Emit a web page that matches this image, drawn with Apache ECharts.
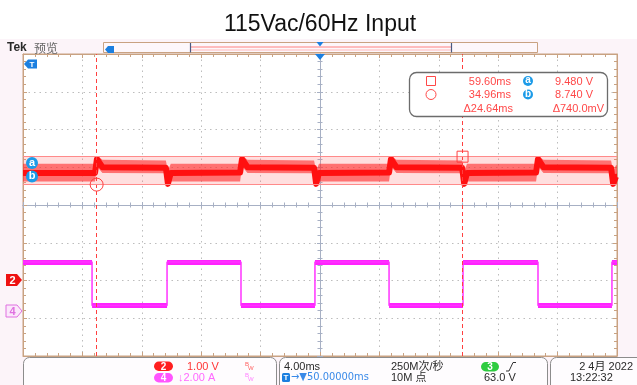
<!DOCTYPE html>
<html><head><meta charset="utf-8">
<script src="https://cdn.jsdelivr.net/npm/echarts@6/dist/echarts.min.js"></script>
<style>html,body{margin:0;padding:0;background:#ffffff;} #c{width:637px;height:385px;}</style>
</head><body><div id="c"></div>
<script>
// ---- data ----
const titleText = '115Vac/60Hz Input';
const timeRange = [30, 70];      // ms, 4 ms/div, centre 50 ms
const ch2Range = [4.2, 12.2];    // V, 1 V/div
const ch4Range = [-2.4, 13.6];   // A, 2 A/div

const ch2Time  = [30.00, 34.85, 34.98, 35.35, 39.62, 39.76, 39.95, 44.62, 44.75, 45.12, 49.60, 49.74, 49.93, 54.65, 54.78, 55.15, 59.57, 59.71, 59.90, 64.55, 64.68, 65.05, 69.60, 69.74, 69.93, 70.00];
const ch2Core  = [9.05, 9.05, 9.42, 9.20, 9.19, 8.76, 9.05, 9.06, 9.42, 9.20, 9.19, 8.76, 9.05, 9.06, 9.42, 9.20, 9.19, 8.76, 9.05, 9.06, 9.42, 9.20, 9.19, 8.76, 8.95, 8.95];
const ch2Upper = [9.29, 9.29, 9.50, 9.40, 9.38, 9.10, 9.29, 9.29, 9.50, 9.40, 9.38, 9.10, 9.29, 9.29, 9.50, 9.40, 9.38, 9.10, 9.29, 9.29, 9.50, 9.40, 9.38, 9.10, 9.25, 9.25];
const ch2Lower = [8.82, 8.82, 9.22, 9.05, 9.04, 8.70, 8.82, 8.82, 9.22, 9.05, 9.04, 8.70, 8.82, 8.82, 9.22, 9.05, 9.04, 8.70, 8.82, 8.82, 9.22, 9.05, 9.04, 8.70, 8.74, 8.74];

const ch4Time = [30.00, 34.65, 34.65, 39.70, 39.70, 44.68, 44.68, 49.66, 49.66, 54.65, 54.65, 59.63, 59.63, 64.68, 64.68, 69.66, 69.66, 70.00];
const ch4Amp  = [2.58, 2.58, 0.28, 0.28, 2.58, 2.58, 0.28, 0.28, 2.58, 2.58, 0.28, 0.28, 2.58, 2.58, 0.28, 0.28, 2.58, 2.58];

const cursorTime = [59.60, 34.96];  // ms  (square, circle)
const cursorVolt = [9.480, 8.740];  // V   (a, b)

const ch2Label = ['2', '1.00 V'];
const ch4Label = ['4', '↓2.00 A'];
const hTexts = ['4.00ms', '→▼50.00000ms', '250M次/秒', '10M 点'];
const trigTexts = ['3', '63.0 V'];
const dateTexts = ['2 4月 2022', '13:22:32'];

// ---- build ----
const chart = echarts.init(document.getElementById('c'), null, {renderer: 'canvas'});
const tan = '#c9a282';
const gridCol = '#bdbdbd';
const centreCol = '#a7b0c4';
const red = '#ff4848';
const font = "'Liberation Sans', 'Noto Sans CJK SC', sans-serif";

const ch2Data = ch2Time.map((t, i) => [t, ch2Core[i]]);
const ch4Data = ch4Time.map((t, i) => [t, ch4Amp[i]]);
const ch4Flat = [];
for (let i = 0; i + 1 < ch4Time.length; i++) {
  if (ch4Amp[i] === ch4Amp[i + 1]) ch4Flat.push({coords: [[ch4Time[i], ch4Amp[i]], [ch4Time[i + 1], ch4Amp[i + 1]]]});
}
const fmt = (v, d) => v.toFixed(d);
const dT = Math.abs(cursorTime[0] - cursorTime[1]);
const dV = Math.abs(cursorVolt[0] - cursorVolt[1]) * 1000;

function divAxis(extra) {
  return Object.assign({
    type: 'value', gridIndex: 0, min: 0, max: 10, interval: 1,
    axisLine: {show: true, onZero: false, lineStyle: {color: tan, width: 1}},
    axisTick: {show: true, inside: true, length: 4, lineStyle: {color: tan}},
    minorTick: {show: true, splitNumber: 5, length: 3, lineStyle: {color: tan}},
    axisLabel: {show: false},
    splitLine: {show: false},
    minorSplitLine: {show: false}
  }, extra);
}
function divAxisY(extra) {
  return divAxis(Object.assign({min: -4, max: 4}, extra));
}
const dotted = {show: true, lineStyle: {color: gridCol, type: [1.5, 4], width: 1}};
const ctrLine = {show: true, onZero: false, lineStyle: {color: centreCol, width: 1}};

const xAxis = [
  divAxis({position: 'bottom', splitLine: dotted}),
  divAxis({position: 'top'}),
  divAxis({position: 'bottom', offset: -151, axisLine: ctrLine, axisTick: {show: true, inside: true, length: 3, lineStyle: {color: centreCol}}, minorTick: {show: true, splitNumber: 5, length: 2.5, lineStyle: {color: centreCol}}}),
  divAxis({position: 'bottom', offset: -151, axisLine: ctrLine, axisTick: {show: true, inside: false, length: 3, lineStyle: {color: centreCol}}, minorTick: {show: true, splitNumber: 5, length: 2.5, lineStyle: {color: centreCol}}}),
  {type: 'value', gridIndex: 0, min: timeRange[0], max: timeRange[1], show: false}
];
const yAxis = [
  divAxisY({position: 'left', splitLine: dotted}),
  divAxisY({position: 'right'}),
  divAxisY({position: 'left', offset: -297, axisLine: ctrLine, axisTick: {show: true, inside: true, length: 3, lineStyle: {color: centreCol}}, minorTick: {show: true, splitNumber: 5, length: 2.5, lineStyle: {color: centreCol}}}),
  divAxisY({position: 'left', offset: -297, axisLine: ctrLine, axisTick: {show: true, inside: false, length: 3, lineStyle: {color: centreCol}}, minorTick: {show: true, splitNumber: 5, length: 2.5, lineStyle: {color: centreCol}}}),
  {type: 'value', gridIndex: 0, min: ch2Range[0], max: ch2Range[1], show: false},
  {type: 'value', gridIndex: 0, min: ch4Range[0], max: ch4Range[1], show: false}
];

function txt(x, y, text, o) {
  return Object.assign({type: 'text', x: x, y: y, z: 20, style: Object.assign({text: text, fill: '#222', font: '11px ' + font, textVerticalAlign: 'middle', verticalAlign: 'middle'}, o || {})});
}
function rrect(x, y, w, h, r, fill, stroke, lw) {
  return {type: 'rect', z: 15, shape: {x: x, y: y, width: w, height: h, r: r}, style: {fill: fill, stroke: stroke || null, lineWidth: lw || 1}};
}
function badge(x, y, w, h, fill, label, col) {
  return [rrect(x, y, w, h, h / 2, fill),
    txt(x + w / 2, y + h / 2 + 0.5, label, {fill: col || '#fff', font: 'bold 10px ' + font, align: 'center', textAlign: 'center'})];
}
const blue = '#1b7fe0';

const graphic = [
  // page backgrounds
  {type: 'rect', z: -10, silent: true, shape: {x: 0, y: 39, width: 637, height: 346}, style: {fill: '#fcf4f9'}},
  // title
  txt(320, 25, titleText, {font: '23px ' + font, fill: '#111', align: 'center', textAlign: 'center'}),
  // Tek label
  txt(7, 48, 'Tek', {font: 'bold 12px ' + font, fill: '#2a2a2a'}),
  txt(34, 48, '预览', {font: '12px "Noto Sans CJK SC", sans-serif', fill: '#666'}),
  // record bar
  {type: 'rect', z: 15, shape: {x: 103.5, y: 42.5, width: 434, height: 10}, style: {fill: '#fdf7fb', stroke: tan, lineWidth: 1}},
  {type: 'line', z: 16, shape: {x1: 190, y1: 47, x2: 451, y2: 47}, style: {stroke: '#ff8080', lineWidth: 1}},
  {type: 'line', z: 16, shape: {x1: 190, y1: 50, x2: 451, y2: 50}, style: {stroke: '#ffb8b8', lineWidth: 1}},
  {type: 'line', z: 16, shape: {x1: 190.5, y1: 43, x2: 190.5, y2: 52.5}, style: {stroke: '#4a5a80', lineWidth: 1.2}},
  {type: 'line', z: 16, shape: {x1: 451.5, y1: 43, x2: 451.5, y2: 52.5}, style: {stroke: '#4a5a80', lineWidth: 1.2}},
  {type: 'polygon', z: 17, shape: {points: [[105, 49.5], [108, 46], [114, 46], [114, 53], [108, 53]]}, style: {fill: blue}},
  {type: 'polygon', z: 17, shape: {points: [[316.5, 42], [323.5, 42], [320, 46.5]]}, style: {fill: blue}},
  // trigger marker top of plot
  {type: 'polygon', z: 17, shape: {points: [[315, 54], [325, 54], [320, 60]]}, style: {fill: blue}},
  // T flag in plot
  {type: 'polygon', z: 17, shape: {points: [[24, 64], [28, 59.5], [37, 59.5], [37, 68.5], [28, 68.5]]}, style: {fill: blue}},
  txt(32, 64.5, 'T', {font: 'bold 8px ' + font, fill: '#fff', align: 'center', textAlign: 'center'}),
  // a / b side markers
  {type: 'circle', z: 17, shape: {cx: 32, cy: 163, r: 6}, style: {fill: '#1c9be8'}},
  txt(32, 162.5, 'a', {font: 'bold 11px ' + font, fill: '#fff', align: 'center', textAlign: 'center'}),
  {type: 'circle', z: 17, shape: {cx: 32, cy: 176.5, r: 6}, style: {fill: '#1c9be8'}},
  txt(32, 176, 'b', {font: 'bold 11px ' + font, fill: '#fff', align: 'center', textAlign: 'center'}),
  // channel markers
  {type: 'polygon', z: 17, shape: {points: [[6, 274], [17, 274], [22, 280], [17, 286], [6, 286]]}, style: {fill: '#ee1111'}},
  txt(12.5, 280.5, '2', {font: 'bold 11px ' + font, fill: '#fff', align: 'center', textAlign: 'center'}),
  {type: 'polygon', z: 17, shape: {points: [[6, 305], [17, 305], [22, 311], [17, 317], [6, 317]]}, style: {fill: '#fbe8fb', stroke: '#e070e0', lineWidth: 1}},
  txt(12.5, 311.5, '4', {font: 'bold 11px ' + font, fill: '#e070e0', align: 'center', textAlign: 'center'}),
  // cursor readout
  rrect(409.5, 72.5, 198, 44, 7, '#ffffff', '#6c6c6c', 1.3),
  {type: 'rect', z: 17, shape: {x: 426.5, y: 76.5, width: 9, height: 9}, style: {fill: null, stroke: red, lineWidth: 1}},
  {type: 'circle', z: 17, shape: {cx: 431, cy: 94.5, r: 5}, style: {fill: null, stroke: red, lineWidth: 1}},
  txt(511, 81.5, fmt(cursorTime[0], 2) + 'ms', {fill: red, align: 'right', textAlign: 'right'}),
  txt(511, 95, fmt(cursorTime[1], 2) + 'ms', {fill: red, align: 'right', textAlign: 'right'}),
  txt(513, 108.5, 'Δ' + fmt(dT, 2) + 'ms', {fill: red, align: 'right', textAlign: 'right'}),
  {type: 'circle', z: 17, shape: {cx: 528, cy: 81, r: 5}, style: {fill: '#1c9be8'}},
  txt(528, 80.5, 'a', {font: 'bold 10px ' + font, fill: '#fff', align: 'center', textAlign: 'center'}),
  {type: 'circle', z: 17, shape: {cx: 528, cy: 94.5, r: 5}, style: {fill: '#1c9be8'}},
  txt(528, 94, 'b', {font: 'bold 10px ' + font, fill: '#fff', align: 'center', textAlign: 'center'}),
  txt(593, 81.5, fmt(cursorVolt[0], 3) + ' V', {fill: red, align: 'right', textAlign: 'right'}),
  txt(593, 95, fmt(cursorVolt[1], 3) + ' V', {fill: red, align: 'right', textAlign: 'right'}),
  txt(604, 108.5, 'Δ' + fmt(dV, 1) + 'mV', {fill: red, align: 'right', textAlign: 'right'}),
  // bottom boxes
  rrect(23.5, 357.5, 253, 40, 6, '#fefcfe', '#8c8c8c', 1),
  rrect(279.5, 357.5, 268, 40, 6, '#fefcfe', '#8c8c8c', 1),
  rrect(550.5, 357.5, 100, 40, 6, '#fefcfe', '#8c8c8c', 1),
  ...badge(154, 361.5, 19, 9.5, '#ff1f1f', ch2Label[0]),
  txt(187, 366.5, ch2Label[1], {fill: '#ff3535'}),
  txt(245, 364, 'B', {fill: '#ff6060', font: '6px ' + font}),
  txt(248, 368, 'W', {fill: '#ff6060', font: '6px ' + font}),
  ...badge(154, 373, 19, 9.5, '#ff55ff', ch4Label[0]),
  txt(178, 377.5, ch4Label[1], {fill: '#ff6aff'}),
  txt(245, 375.5, 'B', {fill: '#ff80ff', font: '6px ' + font}),
  txt(248, 379.5, 'W', {fill: '#ff80ff', font: '6px ' + font}),
  txt(284, 366.5, hTexts[0], {fill: '#2a2a2a'}),
  rrect(282, 373, 8, 9, 1.5, blue),
  txt(286, 377.5, 'T', {font: 'bold 8px ' + font, fill: '#fff', align: 'center', textAlign: 'center'}),
  txt(291, 377.5, hTexts[1], {fill: '#3a8ae8', font: '11px "DejaVu Sans Condensed", ' + font}),
  txt(391, 366.5, hTexts[2], {fill: '#2a2a2a'}),
  txt(391, 377.5, hTexts[3], {fill: '#2a2a2a'}),
  ...badge(481, 362, 18, 9.5, '#2ecc40', trigTexts[0]),
  {type: 'polyline', z: 17, shape: {points: [[506, 371], [509, 371], [513, 362.5], [516, 362.5]]}, style: {stroke: '#333', lineWidth: 1, fill: null}},
  txt(484, 377.5, trigTexts[1], {fill: '#2a2a2a'}),
  txt(633, 366.5, dateTexts[0], {fill: '#2a2a2a', align: 'right', textAlign: 'right'}),
  txt(570, 377.5, dateTexts[1], {fill: '#2a2a2a'})
];

const option = {
  animation: false,
  backgroundColor: 'transparent',
  grid: {left: 23, right: 20, top: 54, bottom: 29, show: true, backgroundColor: '#ffffff', borderColor: tan, borderWidth: 1, containLabel: false, outerBoundsMode: 'none'},
  xAxis: xAxis,
  yAxis: yAxis,
  series: [
    {
      type: 'custom', name: 'ch2 envelope', xAxisIndex: 4, yAxisIndex: 4, z: 3,
      data: [[ch2Time[0], ch2Core[0]]],
      renderItem: function (params, api) {
        const pts = [];
        for (let i = 0; i < ch2Time.length; i++) pts.push(api.coord([ch2Time[i], ch2Upper[i]]));
        for (let i = ch2Time.length - 1; i >= 0; i--) pts.push(api.coord([ch2Time[i], ch2Lower[i]]));
        return {type: 'polygon', shape: {points: pts}, style: {fill: 'rgba(255,40,40,0.6)'}};
      },
      silent: true
    },
    {
      type: 'line', name: 'ch2', xAxisIndex: 4, yAxisIndex: 4, z: 4,
      data: ch2Data, showSymbol: false, symbol: 'none',
      lineStyle: {color: '#ff1010', width: 6, join: 'round'},
      markArea: {silent: true, itemStyle: {color: 'rgba(255,110,110,0.22)'}, data: [[{yAxis: cursorVolt[0]}, {yAxis: cursorVolt[1]}]]},
      markLine: {
        silent: true, symbol: ['none', 'none'], label: {show: false},
        data: [
          {xAxis: cursorTime[1], lineStyle: {color: '#ff4040', type: [4, 3], width: 1}},
          {xAxis: cursorTime[0], lineStyle: {color: '#ff4040', type: [4, 3], width: 1}},
          {yAxis: cursorVolt[0], lineStyle: {color: '#ff8a8a', type: 'solid', width: 1}},
          {yAxis: cursorVolt[1], lineStyle: {color: '#ff8a8a', type: 'solid', width: 1}}
        ]
      },
      markPoint: {
        silent: true, label: {show: false},
        itemStyle: {color: 'rgba(0,0,0,0)', borderColor: '#ff4040', borderWidth: 1},
        data: [
          {coord: [cursorTime[0], cursorVolt[0]], symbol: 'rect', symbolSize: 11},
          {coord: [cursorTime[1], cursorVolt[1]], symbol: 'circle', symbolSize: 13}
        ]
      }
    },
    {
      type: 'line', name: 'ch4', xAxisIndex: 4, yAxisIndex: 5, z: 4,
      data: ch4Data, showSymbol: false, symbol: 'none',
      lineStyle: {color: '#ff33ff', width: 1.5}
    },
    {
      type: 'lines', name: 'ch4 level', coordinateSystem: 'cartesian2d', xAxisIndex: 4, yAxisIndex: 5, z: 4,
      data: ch4Flat, lineStyle: {color: '#ff22ff', width: 5, opacity: 1}, silent: true
    }
  ],
  graphic: graphic
};
chart.setOption(option);
</script>
</body></html>
